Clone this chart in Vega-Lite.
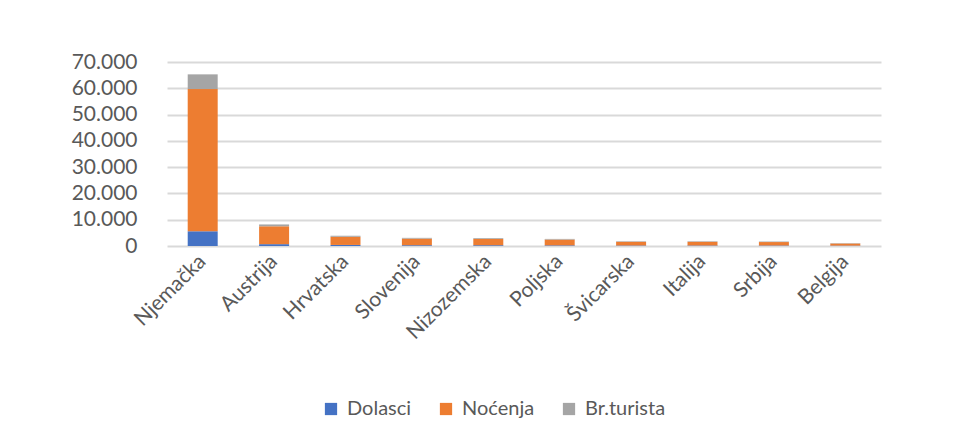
{
  "$schema": "https://vega.github.io/schema/vega-lite/v6.json",
  "width": 714,
  "height": 184,
  "autosize": {"type": "none"},
  "padding": {"left": 167, "top": 62, "right": 77, "bottom": 199},
  "background": "white",
  "config": {
    "view": {"stroke": null},
    "font": "Lato",
    "axis": {"labelColor": "#595959", "labelFontSize": 21, "labelFont": "Lato", "domain": false, "ticks": false, "title": null},
    "legend": {"labelColor": "#595959", "labelFontSize": 20, "labelFont": "Lato"}
  },
  "data": {
    "values": [
      {"zemlja": "Njemačka", "serija": "Dolasci", "red": 1, "vrijednost": 5600},
      {"zemlja": "Njemačka", "serija": "Noćenja", "red": 2, "vrijednost": 54100},
      {"zemlja": "Njemačka", "serija": "Br.turista", "red": 3, "vrijednost": 5600},
      {"zemlja": "Austrija", "serija": "Dolasci", "red": 1, "vrijednost": 700},
      {"zemlja": "Austrija", "serija": "Noćenja", "red": 2, "vrijednost": 6800},
      {"zemlja": "Austrija", "serija": "Br.turista", "red": 3, "vrijednost": 700},
      {"zemlja": "Hrvatska", "serija": "Dolasci", "red": 1, "vrijednost": 400},
      {"zemlja": "Hrvatska", "serija": "Noćenja", "red": 2, "vrijednost": 3100},
      {"zemlja": "Hrvatska", "serija": "Br.turista", "red": 3, "vrijednost": 400},
      {"zemlja": "Slovenija", "serija": "Dolasci", "red": 1, "vrijednost": 300},
      {"zemlja": "Slovenija", "serija": "Noćenja", "red": 2, "vrijednost": 2500},
      {"zemlja": "Slovenija", "serija": "Br.turista", "red": 3, "vrijednost": 300},
      {"zemlja": "Nizozemska", "serija": "Dolasci", "red": 1, "vrijednost": 300},
      {"zemlja": "Nizozemska", "serija": "Noćenja", "red": 2, "vrijednost": 2400},
      {"zemlja": "Nizozemska", "serija": "Br.turista", "red": 3, "vrijednost": 300},
      {"zemlja": "Poljska", "serija": "Dolasci", "red": 1, "vrijednost": 250},
      {"zemlja": "Poljska", "serija": "Noćenja", "red": 2, "vrijednost": 2200},
      {"zemlja": "Poljska", "serija": "Br.turista", "red": 3, "vrijednost": 250},
      {"zemlja": "Švicarska", "serija": "Dolasci", "red": 1, "vrijednost": 200},
      {"zemlja": "Švicarska", "serija": "Noćenja", "red": 2, "vrijednost": 1400},
      {"zemlja": "Švicarska", "serija": "Br.turista", "red": 3, "vrijednost": 200},
      {"zemlja": "Italija", "serija": "Dolasci", "red": 1, "vrijednost": 200},
      {"zemlja": "Italija", "serija": "Noćenja", "red": 2, "vrijednost": 1400},
      {"zemlja": "Italija", "serija": "Br.turista", "red": 3, "vrijednost": 200},
      {"zemlja": "Srbija", "serija": "Dolasci", "red": 1, "vrijednost": 200},
      {"zemlja": "Srbija", "serija": "Noćenja", "red": 2, "vrijednost": 1300},
      {"zemlja": "Srbija", "serija": "Br.turista", "red": 3, "vrijednost": 200},
      {"zemlja": "Belgija", "serija": "Dolasci", "red": 1, "vrijednost": 150},
      {"zemlja": "Belgija", "serija": "Noćenja", "red": 2, "vrijednost": 800},
      {"zemlja": "Belgija", "serija": "Br.turista", "red": 3, "vrijednost": 150}
    ]
  },
  "mark": {"type": "bar"},
  "encoding": {
    "x": {
      "field": "zemlja",
      "type": "nominal",
      "sort": null,
      "scale": {"paddingInner": 0.58, "paddingOuter": 0.29},
      "axis": {"labelAngle": -45, "labelAlign": "right", "labelBaseline": "middle", "labelPadding": 12, "grid": false}
    },
    "y": {
      "field": "vrijednost",
      "type": "quantitative",
      "aggregate": "sum",
      "stack": "zero",
      "scale": {"domain": [0, 70000], "nice": false},
      "axis": {
        "values": [0, 10000, 20000, 30000, 40000, 50000, 60000, 70000],
        "labelExpr": "replace(format(datum.value, ',d'), ',', '.')",
        "labelPadding": 30,
        "grid": true,
        "gridColor": "#D9D9D9",
        "gridWidth": 2
      }
    },
    "color": {
      "field": "serija",
      "type": "nominal",
      "scale": {"domain": ["Dolasci", "Noćenja", "Br.turista"], "range": ["#4472C4", "#ED7D31", "#A5A5A5"]},
      "legend": {"title": null, "orient": "none", "direction": "horizontal", "legendX": 154, "legendY": 337, "symbolType": "square", "symbolSize": 150, "symbolStrokeWidth": 0, "columnPadding": 24, "labelOffset": 6}
    },
    "order": {"field": "red", "type": "quantitative"}
  }
}
